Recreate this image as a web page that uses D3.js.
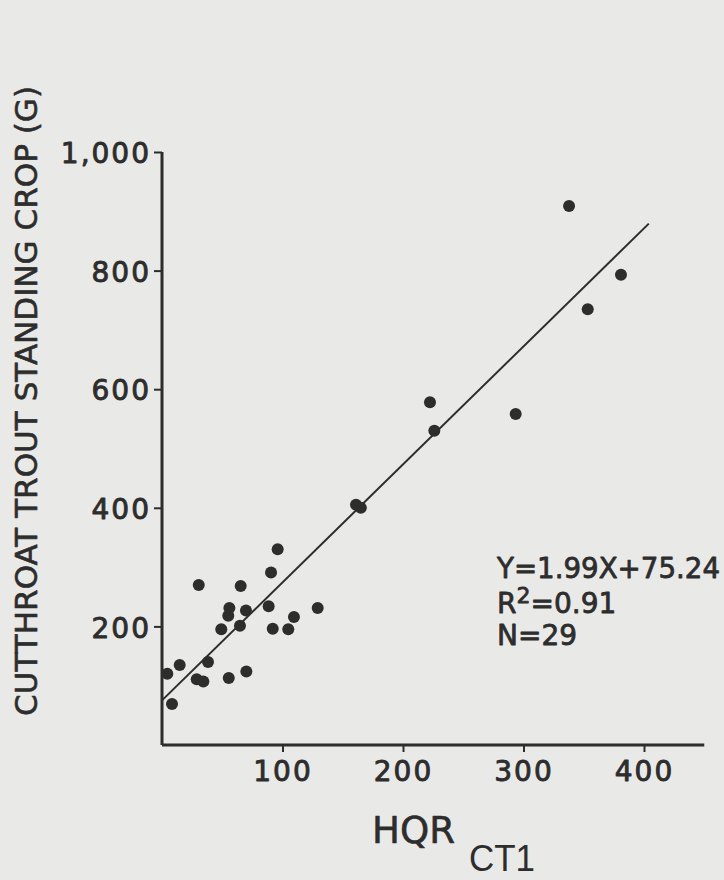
<!DOCTYPE html>
<html>
<head>
<meta charset="utf-8">
<script src="https://cdn.jsdelivr.net/npm/d3@7"></script>
<style>
  html, body { margin: 0; padding: 0; background: #e9e9e7; }
  svg { display: block; }
</style>
</head>
<body>
<svg id="chart" width="724" height="880"></svg>
<script>
// ---- data ----
const hqr = [96.0, 90.5, 30.5, 65.3, 55.9, 55.0, 69.7, 88.5, 109.5, 129.2,
             49.2, 64.7, 91.9, 104.8, 14.7, 38.2, 4.4, 28.8, 34.3, 55.4,
             70.0, 8.3, 337.8, 380.9, 353.3, 222.4, 226.0, 293.5, 161.0, 165.0];
const crop = [330, 291, 270, 268, 231, 218, 227, 234, 216, 231,
              195, 201, 196, 195, 135, 140, 120, 111, 107, 113,
              124, 69, 909, 793, 735, 578, 530, 558, 405, 400];
const xTicks = [100, 200, 300, 400];
const yTicks = [200, 400, 600, 800, 1000];
const slope = 1.99, intercept = 75.24;
const lineXRange = [0, 404];
const statLines = ["Y=1.99X+75.24", "=0.91", "N=29"];

const ink = "#2d2d2d";
const font = "'DejaVu Sans', sans-serif";

const svg = d3.select("#chart");
svg.append("rect").attr("width", 724).attr("height", 880).attr("fill", "#e9e9e7");

const x = d3.scaleLinear().domain([0, 400]).range([162, 644]);
const y = d3.scaleLinear().domain([0, 1000]).range([745, 152]);

function heavy(sel, w) {
  return sel.attr("stroke", ink).attr("stroke-width", w).attr("stroke-linejoin", "round");
}

// axes
const xAxis = svg.append("g").attr("transform", `translate(0,${y(0)})`)
  .call(d3.axisBottom(x).tickValues(xTicks).tickSize(7).tickPadding(5).tickFormat(d3.format("d")));
xAxis.select(".domain").attr("d", `M${x(0)},0H${x(450)}`);
const yAxis = svg.append("g").attr("transform", `translate(${x(0)},0)`)
  .call(d3.axisLeft(y).tickValues(yTicks).tickSize(8).tickPadding(3).tickFormat(d3.format(",")));
yAxis.select(".domain").attr("d", `M0,${y(1000)}V${y(0)}`);

[xAxis, yAxis].forEach(g => {
  g.select(".domain").attr("stroke", ink).attr("stroke-width", 3).attr("fill", "none");
  g.selectAll(".tick line").attr("stroke", ink).attr("stroke-width", 2);
  const t = g.selectAll(".tick text").attr("fill", ink).attr("font-family", font)
    .attr("font-size", 28).attr("letter-spacing", 2);
  heavy(t, 0.9);
});
xAxis.selectAll(".tick text").attr("dy", "0.85em");
yAxis.selectAll(".tick text").attr("dy", "0.38em");

// regression line
svg.append("line")
  .attr("x1", x(lineXRange[0])).attr("y1", y(slope * lineXRange[0] + intercept))
  .attr("x2", x(lineXRange[1])).attr("y2", y(slope * lineXRange[1] + intercept))
  .attr("stroke", ink).attr("stroke-width", 2);

// points
svg.append("g").selectAll("circle")
  .data(hqr.map((v, i) => [v, crop[i]]))
  .join("circle")
  .attr("cx", d => x(d[0])).attr("cy", d => y(d[1]))
  .attr("r", 6).attr("fill", ink);

// y axis title
heavy(svg.append("text")
  .attr("transform", "translate(37,716) rotate(-90)")
  .attr("font-family", font).attr("font-size", 30).attr("fill", ink)
  .attr("textLength", 630).attr("lengthAdjust", "spacingAndGlyphs")
  .text("CUTTHROAT TROUT STANDING CROP (G)"), 0.6);

// x axis title
heavy(svg.append("text").attr("x", 372).attr("y", 843)
  .attr("font-family", font).attr("font-size", 38).attr("fill", ink)
  .attr("textLength", 83).attr("lengthAdjust", "spacingAndGlyphs")
  .text("HQR"), 0.6);
svg.append("text").attr("x", 469).attr("y", 871)
  .attr("font-family", "'Liberation Sans', Arial, sans-serif").attr("font-size", 36).attr("fill", ink)
  .attr("textLength", 66).attr("lengthAdjust", "spacingAndGlyphs")
  .text("CT1");

// stats
heavy(svg.append("text").attr("x", 497).attr("y", 578)
  .attr("font-family", font).attr("font-size", 28).attr("fill", ink)
  .attr("textLength", 223).attr("lengthAdjust", "spacingAndGlyphs")
  .text(statLines[0]), 0.8);
const r2 = heavy(svg.append("text").attr("x", 497).attr("y", 613)
  .attr("font-family", font).attr("font-size", 28).attr("fill", ink), 0.8);
r2.append("tspan").text("R");
r2.append("tspan").attr("font-size", 22).attr("dy", -10).text("2");
r2.append("tspan").attr("dy", 10).text(statLines[1]);
heavy(svg.append("text").attr("x", 497).attr("y", 645)
  .attr("font-family", font).attr("font-size", 28).attr("fill", ink)
  .text(statLines[2]), 0.8);
</script>
</body>
</html>
